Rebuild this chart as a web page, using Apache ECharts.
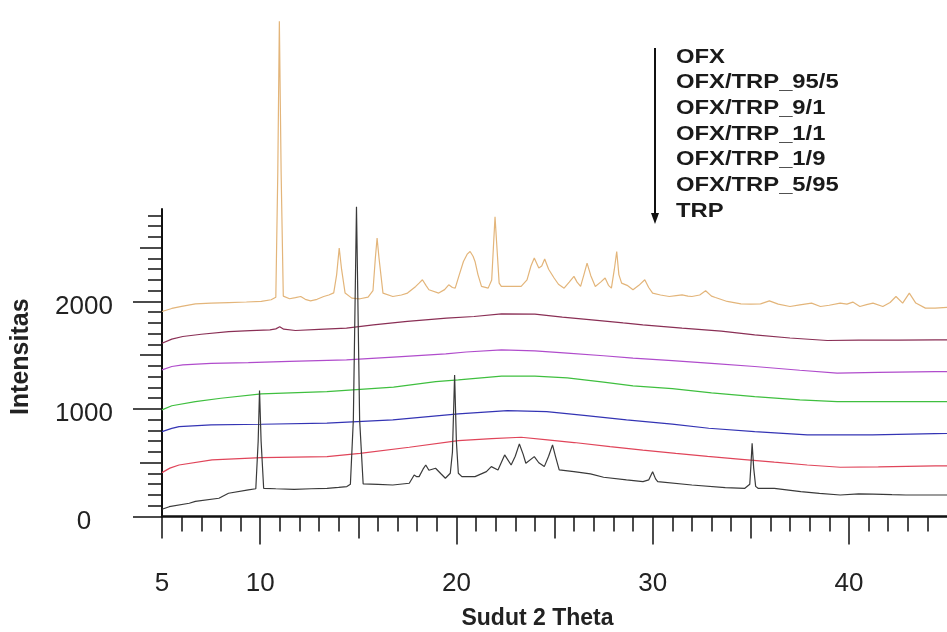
<!DOCTYPE html>
<html>
<head>
<meta charset="utf-8">
<script src="https://cdn.jsdelivr.net/npm/echarts@6/dist/echarts.min.js"></script>
<style>
  html, body { margin: 0; padding: 0; background: #ffffff; }
  #chart { width: 947px; height: 632px; }
</style>
</head>
<body>
<div id="chart"></div>
<script>
// ---- series names (legend order, top to bottom) ----
const seriesNames = ['OFX', 'OFX/TRP_95/5', 'OFX/TRP_9/1', 'OFX/TRP_1/1', 'OFX/TRP_1/9', 'OFX/TRP_5/95', 'TRP'];
const seriesColors = ['#e3b57a', '#8a2f55', '#b04ccc', '#3fbf3f', '#3434b4', '#e0455a', '#3a3a3a'];

// ---- data: [2theta, intensity] ----
const dataOFX = [[5.0,1907],[5.5,1935],[6.0,1955],[6.7,1978],[7.5,1985],[8.4,1990],[9.3,1995],[10.06,2000],[10.56,2016],[10.8,2040],[10.9,3200],[10.98,4607],[11.07,3200],[11.18,2050],[11.5,2025],[11.8,2035],[12.07,2046],[12.3,2020],[12.57,2006],[12.9,2020],[13.24,2046],[13.5,2060],[13.75,2080],[13.9,2250],[14.03,2497],[14.15,2300],[14.33,2078],[14.67,2031],[15.09,2025],[15.5,2040],[15.75,2100],[15.87,2400],[15.96,2590],[16.06,2400],[16.26,2078],[16.76,2046],[17.2,2060],[17.51,2078],[17.93,2140],[18.1,2170],[18.27,2202],[18.45,2150],[18.6,2109],[19.1,2078],[19.4,2110],[19.61,2155],[19.8,2130],[19.94,2124],[20.15,2250],[20.36,2372],[20.55,2440],[20.7,2465],[20.85,2420],[20.95,2372],[21.1,2250],[21.28,2140],[21.62,2124],[21.8,2200],[21.9,2550],[21.97,2788],[22.05,2550],[22.18,2170],[22.29,2140],[22.8,2140],[23.3,2140],[23.6,2200],[23.8,2330],[23.97,2404],[24.2,2311],[24.35,2330],[24.5,2395],[24.7,2300],[24.98,2218],[25.2,2160],[25.49,2124],[25.75,2180],[25.99,2233],[26.15,2180],[26.33,2140],[26.5,2250],[26.66,2357],[26.85,2240],[27.08,2140],[27.35,2180],[27.58,2218],[27.75,2150],[27.9,2124],[28.05,2300],[28.17,2465],[28.28,2250],[28.42,2171],[28.7,2150],[29.0,2109],[29.3,2150],[29.6,2202],[29.8,2130],[30.0,2078],[30.4,2060],[30.85,2046],[31.2,2055],[31.5,2062],[31.8,2050],[32.0,2046],[32.4,2060],[32.7,2099],[33.0,2050],[33.2,2037],[33.8,2000],[34.5,1978],[35.0,1975],[35.5,1978],[35.95,2006],[36.4,1975],[37.0,1953],[37.5,1969],[38.1,1985],[38.55,1953],[39.0,1965],[39.56,1985],[39.9,1975],[40.2,1994],[40.56,1953],[40.9,1970],[41.23,1985],[41.73,1953],[42.1,1990],[42.4,2046],[42.74,1985],[43.08,2078],[43.41,1985],[43.9,1938],[44.4,1938],[45.0,1945]];
const dataOFX_95_5 = [[5.0,1612],[5.5,1650],[6.06,1674],[7.0,1695],[8.4,1720],[9.5,1728],[10.5,1735],[10.8,1745],[11.0,1765],[11.2,1742],[11.8,1730],[13.0,1740],[14.4,1752],[15.77,1783],[17.5,1815],[19.5,1845],[20.9,1860],[22.3,1885],[24.0,1882],[25.4,1855],[26.9,1829],[28.5,1800],[29.5,1783],[31.5,1752],[33.5,1725],[35.2,1690],[37.0,1660],[38.9,1637],[40.5,1640],[42.5,1640],[44.4,1643],[45.0,1643]];
const dataOFX_9_1 = [[5.0,1364],[5.5,1395],[6.06,1410],[7.5,1425],[9.4,1432],[11.5,1442],[14.4,1457],[17.0,1485],[19.46,1513],[20.5,1530],[22.3,1550],[24.0,1540],[25.65,1519],[27.5,1495],[29.0,1473],[31.0,1450],[33.0,1425],[35.2,1395],[37.5,1360],[39.4,1333],[41.5,1340],[44.4,1348],[45.0,1348]];
const dataOFX_1_1 = [[5.0,992],[5.5,1030],[6.7,1069],[8.0,1100],[10.06,1140],[13.4,1162],[16.8,1203],[18.95,1255],[20.1,1271],[22.3,1305],[24.0,1305],[25.65,1290],[27.5,1250],[29.0,1215],[31.0,1190],[33.0,1150],[35.2,1115],[37.5,1085],[39.4,1069],[42.0,1068],[44.4,1069],[45.0,1069]];
const dataOFX_1_9 = [[5.0,790],[5.5,820],[5.87,836],[7.5,852],[10.06,858],[13.4,868],[16.76,898],[20.1,954],[22.6,985],[24.6,976],[26.5,940],[28.67,898],[31.0,860],[32.86,821],[35.2,790],[37.88,759],[39.4,759],[41.2,759],[44.4,770],[45.0,772]];
const dataOFX_5_95 = [[5.0,408],[5.4,450],[5.87,479],[7.55,526],[10.06,548],[13.41,557],[15.09,588],[17.6,644],[20.1,706],[21.8,725],[23.3,737],[24.64,712],[26.0,688],[27.83,650],[29.5,618],[31.18,588],[32.8,560],[34.53,532],[36.2,505],[37.88,479],[39.56,458],[41.5,462],[44.4,470],[45.0,470]];
const dataTRP = [[5.0,67],[5.37,91],[6.39,123],[6.7,140],[7.9,170],[8.39,216],[9.4,247],[9.78,258],[9.9,700],[9.97,1171],[10.05,700],[10.18,262],[10.8,258],[11.73,253],[12.6,258],[13.41,262],[14.0,270],[14.42,278],[14.6,300],[14.75,900],[14.91,2881],[15.07,900],[15.25,303],[16.0,298],[16.76,293],[17.6,309],[17.85,386],[17.98,370],[18.1,371],[18.3,440],[18.44,479],[18.6,430],[18.69,417],[18.94,449],[19.2,400],[19.44,356],[19.69,402],[19.8,600],[19.91,1317],[20.0,700],[20.1,402],[20.28,371],[20.95,371],[21.53,417],[21.78,464],[22.12,433],[22.46,573],[22.79,479],[23.0,560],[23.21,675],[23.4,580],[23.54,495],[23.97,557],[24.2,500],[24.48,464],[24.7,560],[24.9,666],[25.05,560],[25.24,433],[25.99,417],[26.83,396],[27.5,365],[28.67,340],[29.51,324],[29.8,340],[30.0,417],[30.15,350],[30.26,324],[32.0,293],[33.7,268],[34.7,262],[34.95,300],[35.0,450],[35.07,681],[35.15,450],[35.25,280],[35.37,262],[36.2,262],[37.55,231],[38.5,215],[39.56,200],[40.5,210],[41.23,209],[42.2,203],[42.9,200],[44.4,200],[45.0,200]];
const seriesData = [dataOFX, dataOFX_95_5, dataOFX_9_1, dataOFX_1_1, dataOFX_1_9, dataOFX_5_95, dataTRP];

// ---- axis ticks / labels ----
const xLabelValues = [5, 10, 20, 30, 40];
const xMajorTicks = [10, 20, 30, 40];
const xMidTicks = [5, 15, 25, 35];
const xMinorTicks = [6,7,8,9,11,12,13,14,16,17,18,19,21,22,23,24,26,27,28,29,31,32,33,34,36,37,38,39,41,42,43,44];
const yLabelValues = [0, 1000, 2000];
const yMajorTicks = [0, 1000, 2000];
const yMidTicks = [500, 1500, 2500];
const yMinorTicks = [100,200,300,400,600,700,800,900,1100,1200,1300,1400,1600,1700,1800,1900,2100,2200,2300,2400,2600,2700,2800];
const xName = 'Sudut 2 Theta';
const yName = 'Intensitas';

const FONT = 'Arial, "Liberation Sans", sans-serif';
const chart = echarts.init(document.getElementById('chart'), null, { renderer: 'canvas' });

function xAx(ticks, len, extra) {
  return Object.assign({
    type: 'value', min: 5, max: 45, position: 'bottom',
    axisLine: { show: false },
    axisTick: { show: true, customValues: ticks, length: len, lineStyle: { color: '#111', width: 1.5 } },
    axisLabel: { show: false },
    splitLine: { show: false }
  }, extra || {});
}
function yAx(ticks, len, extra) {
  return Object.assign({
    type: 'value', min: 0, max: 2860, position: 'left',
    axisLine: { show: false },
    axisTick: { show: true, customValues: ticks, length: len, lineStyle: { color: '#111', width: 1.5 } },
    axisLabel: { show: false },
    splitLine: { show: false }
  }, extra || {});
}

const legendGraphics = seriesNames.map((n, i) => ({
  type: 'text', left: 676, top: 47 + i * 25.7, scaleX: 1.19,
  style: { text: n, font: 'bold 20px ' + FONT, fill: '#1a1a1a' }
}));

chart.setOption({
  animation: false,
  backgroundColor: '#ffffff',
  grid: { left: 162, top: 209, width: 796, height: 307.5, containLabel: false },
  xAxis: [
    xAx(xMinorTicks, 15, {
      axisLine: { show: true, lineStyle: { color: '#111', width: 2.5 } },
      axisLabel: { show: true, customValues: xLabelValues, margin: 54, fontSize: 26, color: '#222', fontFamily: FONT, formatter: v => String(v) },
      name: xName, nameLocation: 'middle', nameGap: 91,
      nameTextStyle: { fontSize: 23, fontWeight: 'bold', color: '#222', fontFamily: FONT, padding: [0, 34, 0, 0] }
    }),
    xAx(xMidTicks, 22),
    xAx(xMajorTicks, 28)
  ],
  yAxis: [
    yAx(yMinorTicks, 14, {
      axisLine: { show: true, lineStyle: { color: '#111', width: 2 } },
      axisLabel: { show: true, customValues: yLabelValues, margin: 78, align: 'center', verticalAlign: 'top', lineHeight: 10, fontSize: 26, color: '#222', fontFamily: FONT, formatter: v => String(v) },
      name: yName, nameLocation: 'middle', nameGap: 128,
      nameTextStyle: { fontSize: 25, fontWeight: 'bold', color: '#222', fontFamily: FONT, padding: [0, 0, 0, 12] }
    }),
    yAx(yMidTicks, 22),
    yAx(yMajorTicks, 29)
  ],
  series: seriesNames.map((n, i) => ({
    name: n, type: 'line', xAxisIndex: 0, yAxisIndex: 0,
    data: seriesData[i], showSymbol: false, clip: false, smooth: false,
    lineStyle: { color: seriesColors[i], width: 1.2 }, z: 2 + i
  })),
  graphic: [
    { type: 'line', shape: { x1: 655, y1: 48, x2: 655, y2: 216 }, style: { stroke: '#111', lineWidth: 2 } },
    { type: 'polygon', shape: { points: [[651, 213], [659, 213], [655, 224]] }, style: { fill: '#111' } }
  ].concat(legendGraphics)
});
</script>
</body>
</html>
